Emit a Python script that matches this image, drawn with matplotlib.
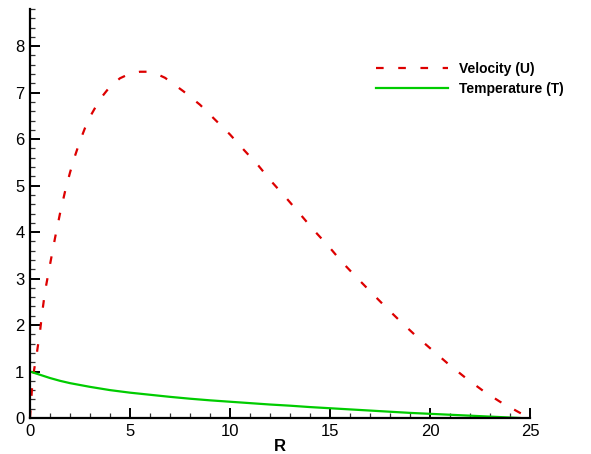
import matplotlib
matplotlib.use("Agg")
import matplotlib.pyplot as plt
from matplotlib.ticker import MultipleLocator

# Data
r_vel = [0, 0.1, 0.2, 0.35, 0.5, 0.62, 0.75, 1.0, 1.25, 1.5, 1.75, 2.0, 2.25, 2.5,
         2.75, 3.0, 3.5, 4.0, 4.5, 5.0, 5.5, 5.9, 6.3, 6.75, 7.67, 8.5, 9.25, 10.0,
         10.67, 11.42, 12.09, 12.84, 13.5, 14.17, 14.92, 15.59, 16.34, 17.09, 17.8,
         18.59, 19.34, 20.17, 20.92, 21.79, 22.67, 23.5, 24.5, 25.0]
u_vel = [0, 0.63, 1.02, 1.42, 1.86, 2.3, 2.72, 3.3, 3.87, 4.4, 4.87, 5.28, 5.64, 5.96,
         6.24, 6.48, 6.86, 7.13, 7.31, 7.41, 7.45, 7.45, 7.41, 7.32, 7.03, 6.74, 6.42, 6.1,
         5.78, 5.43, 5.08, 4.72, 4.39, 4.05, 3.7, 3.36, 3.02, 2.69, 2.38,
         2.05, 1.75, 1.44, 1.16, 0.86, 0.58, 0.35, 0.11, 0.0]
r_temp = [0, 0.5, 1, 1.5, 2, 3, 4, 5, 6, 7, 8, 9, 10, 11, 12, 13, 14, 15, 16, 17, 18,
          19, 20, 21, 22, 23, 24, 24.5]
t_temp = [1.0, 0.93, 0.86, 0.8, 0.75, 0.67, 0.6, 0.545, 0.5, 0.455, 0.415, 0.38, 0.35,
          0.32, 0.29, 0.265, 0.235, 0.21, 0.185, 0.16, 0.135, 0.11, 0.09, 0.07, 0.05,
          0.03, 0.01, 0.0]
x_ticks = [0, 5, 10, 15, 20, 25]
y_ticks = [0, 1, 2, 3, 4, 5, 6, 7, 8]

plt.rcParams['font.family'] = ['Liberation Sans', 'DejaVu Sans']
plt.rcParams['lines.scale_dashes'] = False

fig = plt.figure(figsize=(5.91, 4.54), dpi=100)
ax = fig.add_axes([30/591, 36/454, 500/591, (418.3-9.3)/454])

ax.plot(r_vel, u_vel, color='#dd0000', lw=1.6, dashes=(5.5, 10.5),
        label='Velocity (U)', clip_on=False)
ax.plot(r_temp, t_temp, color='#00cc00', lw=1.6, label='Temperature (T)')

ax.set_xlim(0, 25)
ax.set_ylim(0, 8.8)
ax.set_xticks(x_ticks)
ax.set_yticks(y_ticks)
ax.xaxis.set_minor_locator(MultipleLocator(1))
ax.yaxis.set_minor_locator(MultipleLocator(0.2))

for s in ['top', 'right']:
    ax.spines[s].set_visible(False)
for s in ['left', 'bottom']:
    ax.spines[s].set_linewidth(1.6)

ax.tick_params(which='major', direction='in', length=7.5, width=1.4, labelsize=12,
               pad=4, color='black')
ax.tick_params(which='minor', direction='in', length=3.8, width=0.9, color='#333333')

ax.set_xlabel('R', fontsize=12, fontweight='bold', labelpad=0)

leg = ax.legend(loc='upper left', bbox_to_anchor=(340/500, 1 - 47/409), frameon=False,
                prop={'weight': 'bold', 'size': 10}, handlelength=5.2,
                handletextpad=0.8, labelspacing=0.45, borderaxespad=0)

fig.savefig('out.png', dpi=100)
